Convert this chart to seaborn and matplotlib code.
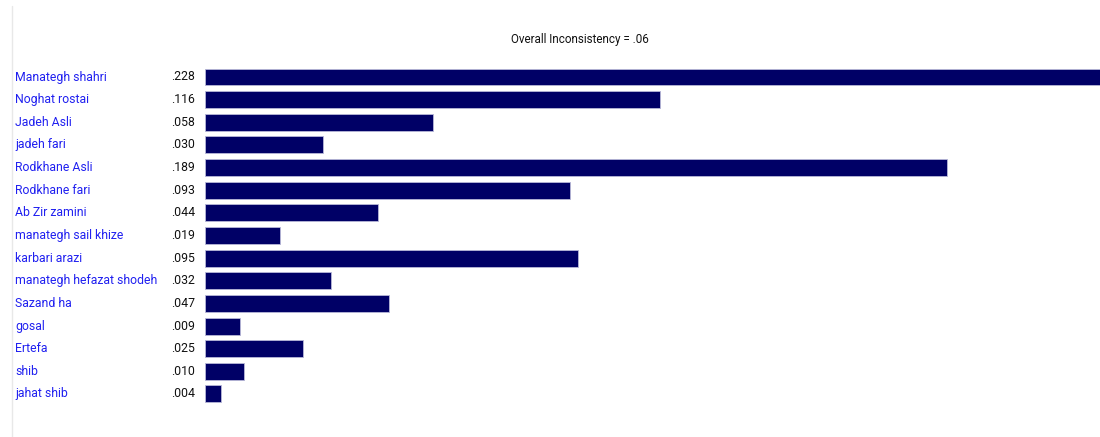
import matplotlib
matplotlib.use("Agg")
import matplotlib.pyplot as plt
from matplotlib.lines import Line2D
import seaborn as sns
import pandas as pd

categories = ["Manategh shahri", "Noghat rostai", "Jadeh Asli", "jadeh fari",
              "Rodkhane Asli", "Rodkhane fari", "Ab Zir zamini",
              "manategh sail khize", "karbari arazi", "manategh hefazat shodeh",
              "Sazand ha", "gosal", "Ertefa", "shib", "jahat shib"]
weights = [0.228, 0.116, 0.058, 0.030, 0.189, 0.093, 0.044, 0.019, 0.095,
           0.032, 0.047, 0.009, 0.025, 0.010, 0.004]
value_labels = [".228", ".116", ".058", ".030", ".189", ".093", ".044", ".019",
                ".095", ".032", ".047", ".009", ".025", ".010", ".004"]
title_text = "Overall Inconsistency = .06"

sns.set_theme(style="white")
plt.rcParams['font.family'] = ['Roboto', 'DejaVu Sans']

W, H = 1100, 437
fig = plt.figure(figsize=(W / 100, H / 100), dpi=100)
fig.patch.set_facecolor("white")

n = len(categories)
step = 22.64
y_first = 77.0
top_px = y_first - step / 2
bot_px = y_first + (n - 1) * step + step / 2
ax = fig.add_axes([205 / W, 1 - bot_px / H, 1 - 205 / W, (bot_px - top_px) / H])

df = pd.DataFrame({"cat": categories, "w": weights})
sns.barplot(data=df, y="cat", x="w", orient="h", color="#000066",
            edgecolor="#b8b8d8", linewidth=0.6, width=0.75, ax=ax,
            saturation=1)
ax.set_xlim(0, max(weights))
ax.set_ylim(n - 0.5, -0.5)
ax.axis("off")

fsize = 8.8
for i, (c, v) in enumerate(zip(categories, value_labels)):
    ypx = y_first + i * step
    fig.text(15 / W, 1 - ypx / H, c, color="#2020f0", fontsize=fsize,
             ha="left", va="center")
    fig.text(171 / W, 1 - ypx / H, v, color="#111111", fontsize=fsize,
             ha="left", va="center")

fig.text(580 / W, 1 - 40 / H, title_text, color="#111111", fontsize=8.4,
         ha="center", va="center")

fig.add_artist(Line2D([11.5 / W, 11.5 / W], [1 - 6 / H, 0], color="#e8e8e8",
                      linewidth=1.0, transform=fig.transFigure))

fig.savefig("out.png", dpi=100, facecolor="white")
